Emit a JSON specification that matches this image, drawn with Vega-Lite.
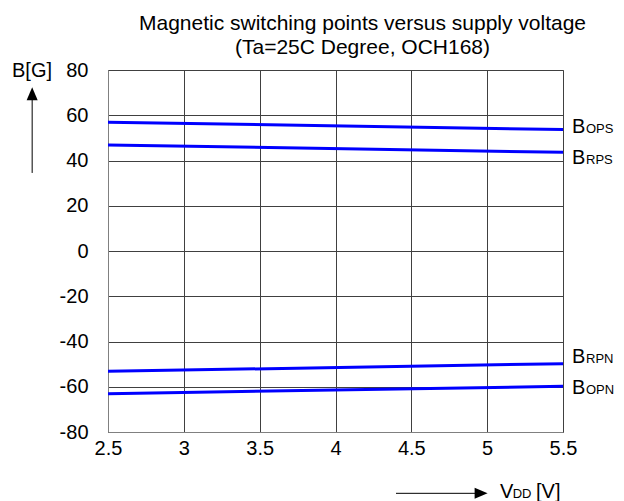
{
  "$schema": "https://vega.github.io/schema/vega-lite/v6.json",
  "width": 455,
  "height": 362,
  "autosize": {"type": "none"},
  "padding": {"left": 108, "top": 70, "right": 61, "bottom": 69},
  "background": "white",
  "config": {
    "view": {"stroke": "#808080", "strokeWidth": 1},
    "font": "Liberation Sans",
    "axis": {
      "labelFont": "Liberation Sans",
      "labelFontSize": 20,
      "labelColor": "black",
      "domainColor": "#808080",
      "gridColor": "#404040",
      "gridWidth": 1,
      "gridOpacity": 1,
      "tickSize": 0,
      "ticks": false,
      "title": null
    }
  },
  "title": {
    "text": ["Magnetic switching points versus supply voltage", "(Ta=25C Degree, OCH168)"],
    "font": "Liberation Sans",
    "fontSize": 21,
    "fontWeight": "normal",
    "color": "black",
    "anchor": "middle",
    "frame": "group",
    "dx": 27,
    "offset": 2,
    "lineHeight": 24
  },
  "datasets": {
    "curves": [
      {"series": "OPS", "vdd": 2.5, "b": 56.9},
      {"series": "OPS", "vdd": 5.5, "b": 53.7},
      {"series": "RPS", "vdd": 2.5, "b": 46.9},
      {"series": "RPS", "vdd": 5.5, "b": 43.6},
      {"series": "RPN", "vdd": 2.5, "b": -53.2},
      {"series": "RPN", "vdd": 5.5, "b": -49.8},
      {"series": "OPN", "vdd": 2.5, "b": -63.1},
      {"series": "OPN", "vdd": 5.5, "b": -59.8}
    ],
    "labels": [
      {"sub": "OPS", "vdd": 5.5, "b": 52.2},
      {"sub": "RPS", "vdd": 5.5, "b": 38.4},
      {"sub": "RPN", "vdd": 5.5, "b": -49.5},
      {"sub": "OPN", "vdd": 5.5, "b": -63.2}
    ],
    "annot": [
      {"t": "B[G]", "vdd": 1.867, "b": 76.9},
      {"t": "V", "vdd": 5.085, "b": -109.2},
      {"t": "[V]", "vdd": 5.322, "b": -109.2}
    ],
    "annotSub": [
      {"t": "DD", "vdd": 5.168, "b": -109.2}
    ],
    "arrows": [
      {"x1": 2.0, "y1": 34.5, "x2": 2.0, "y2": 70},
      {"x1": 4.399, "y1": -107.1, "x2": 4.93, "y2": -107.1}
    ],
    "headUp": [{"vdd": 2.0, "b": 69.5}],
    "headRight": [{"vdd": 4.96, "b": -107.1}]
  },
  "layer": [
    {
      "data": {"name": "curves"},
      "mark": {"type": "line", "color": "#0000ff", "strokeWidth": 3},
      "encoding": {
        "x": {
          "field": "vdd", "type": "quantitative",
          "scale": {"domain": [2.5, 5.5], "nice": false, "zero": false},
          "axis": {"values": [2.5, 3, 3.5, 4, 4.5, 5, 5.5], "format": "~g", "labelPadding": 6, "grid": true, "labelFlush": false, "labelOverlap": false}
        },
        "y": {
          "field": "b", "type": "quantitative",
          "scale": {"domain": [-80, 80], "nice": false, "zero": false},
          "axis": {"values": [-80, -60, -40, -20, 0, 20, 40, 60, 80], "labelExpr": "'' + datum.value", "labelPadding": 20, "grid": true, "labelFlush": false, "labelOverlap": false}
        },
        "detail": {"field": "series"}
      }
    },
    {
      "data": {"name": "labels"},
      "mark": {"type": "text", "text": "B", "align": "left", "baseline": "alphabetic", "dx": 9, "fontSize": 20, "font": "Liberation Sans", "color": "black"},
      "encoding": {
        "x": {"field": "vdd", "type": "quantitative"},
        "y": {"field": "b", "type": "quantitative"}
      }
    },
    {
      "data": {"name": "labels"},
      "mark": {"type": "text", "align": "left", "baseline": "alphabetic", "dx": 23, "fontSize": 13, "font": "Liberation Sans", "color": "black"},
      "encoding": {
        "x": {"field": "vdd", "type": "quantitative"},
        "y": {"field": "b", "type": "quantitative"},
        "text": {"field": "sub"}
      }
    },
    {
      "data": {"name": "annot"},
      "mark": {"type": "text", "align": "left", "baseline": "alphabetic", "fontSize": 20, "font": "Liberation Sans", "color": "black"},
      "encoding": {
        "x": {"field": "vdd", "type": "quantitative"},
        "y": {"field": "b", "type": "quantitative"},
        "text": {"field": "t"}
      }
    },
    {
      "data": {"name": "annotSub"},
      "mark": {"type": "text", "align": "left", "baseline": "alphabetic", "fontSize": 13, "font": "Liberation Sans", "color": "black"},
      "encoding": {
        "x": {"field": "vdd", "type": "quantitative"},
        "y": {"field": "b", "type": "quantitative"},
        "text": {"field": "t"}
      }
    },
    {
      "data": {"name": "arrows"},
      "mark": {"type": "rule", "color": "black", "strokeWidth": 1},
      "encoding": {
        "x": {"field": "x1", "type": "quantitative"},
        "y": {"field": "y1", "type": "quantitative"},
        "x2": {"field": "x2"},
        "y2": {"field": "y2"}
      }
    },
    {
      "data": {"name": "headUp"},
      "mark": {"type": "point", "shape": "M0,-1L0.85,1L-0.85,1Z", "size": 169, "filled": true, "color": "black", "opacity": 1},
      "encoding": {
        "x": {"field": "vdd", "type": "quantitative"},
        "y": {"field": "b", "type": "quantitative"}
      }
    },
    {
      "data": {"name": "headRight"},
      "mark": {"type": "point", "shape": "M0,-1L0.85,1L-0.85,1Z", "angle": 90, "size": 169, "filled": true, "color": "black", "opacity": 1},
      "encoding": {
        "x": {"field": "vdd", "type": "quantitative"},
        "y": {"field": "b", "type": "quantitative"}
      }
    }
  ]
}
